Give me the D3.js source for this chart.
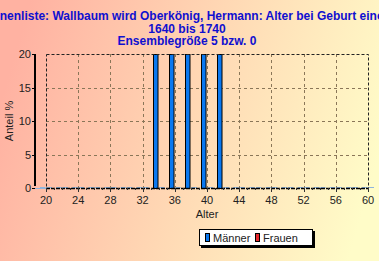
<!DOCTYPE html>
<html>
<head>
<meta charset="utf-8">
<script src="https://cdn.jsdelivr.net/npm/d3@7"></script>
<style>
  body { margin: 0; padding: 0; overflow: hidden; }
  svg { display: block; }
</style>
</head>
<body>
<div id="chart"></div>
<script>
// data
const titleLines = [
  "Ahnenliste: Wallbaum wird Oberkönig, Hermann: Alter bei Geburt eines",
  "1640 bis 1740",
  "Ensemblegröße 5 bzw. 0"
];
const ages    = [20, 22, 24, 26, 28, 30, 32, 34, 36, 38, 40, 42, 44, 46, 48, 50, 52, 54, 56, 58, 60];
const maenner = [0, 0, 0, 0, 0, 0, 0, 20, 20, 20, 20, 20, 0, 0, 0, 0, 0, 0, 0, 0, 0];
const frauen  = [0, 0, 0, 0, 0, 0, 0, 0, 0, 0, 0, 0, 0, 0, 0, 0, 0, 0, 0, 0, 0];
const xTicks = [20, 24, 28, 32, 36, 40, 44, 48, 52, 56, 60];
const yTicks = [0, 5, 10, 15, 20];
const seriesNames = ["Männer", "Frauen"];

const W = 379, H = 261;
const plot = { left: 46, right: 368, top: 54, bottom: 188 };
const colM = "#0a78f0", colF = "#e8282c";

const svg = d3.select("#chart").append("svg")
  .attr("width", W).attr("height", H);

const defs = svg.append("defs");
const grad = defs.append("linearGradient").attr("id", "bg")
  .attr("x1", "0%").attr("y1", "40%").attr("x2", "100%").attr("y2", "60%");
grad.append("stop").attr("offset", "0%").attr("stop-color", "#ffb2a2");
grad.append("stop").attr("offset", "50%").attr("stop-color", "#ffd8b4");
grad.append("stop").attr("offset", "100%").attr("stop-color", "#fffcc8");
svg.append("rect").attr("width", W).attr("height", H).attr("fill", "url(#bg)");

const x = d3.scaleLinear().domain([20, 60]).range([plot.left, plot.right]);
const y = d3.scaleLinear().domain([0, 20]).range([plot.bottom, plot.top]);

// grid
const grid = svg.append("g").attr("stroke", "#8a7658").attr("stroke-dasharray", "3,3").attr("stroke-width", 1);
grid.selectAll("line.v").data(xTicks.slice(1, -1)).enter().append("line")
  .attr("x1", d => Math.round(x(d)) + 0.5).attr("x2", d => Math.round(x(d)) + 0.5)
  .attr("y1", plot.top).attr("y2", plot.bottom);
grid.selectAll("line.h").data(yTicks.slice(1, -1)).enter().append("line")
  .attr("y1", d => Math.round(y(d)) + 0.5).attr("y2", d => Math.round(y(d)) + 0.5)
  .attr("x1", plot.left).attr("x2", plot.right);

// bars (Männer left of bin centre, Frauen right)
const barW = 5.5;
const bars = svg.append("g");
ages.forEach((a, i) => {
  [maenner[i], frauen[i]].forEach((v, s) => {
    const bx = s === 0 ? x(a) - barW - 0.5 : x(a) + 0.5;
    if (v > 0) {
      bars.append("rect")
        .attr("x", Math.round(bx) + 0.5).attr("y", y(v) + 0.5)
        .attr("width", barW - 1).attr("height", y(0) - y(v))
        .attr("fill", s === 0 ? colM : colF)
        .attr("stroke", "#000").attr("stroke-width", 1);
    } else {
      bars.append("rect")
        .attr("x", bx).attr("y", y(0) - 1)
        .attr("width", barW).attr("height", 1)
        .attr("fill", "#8fb4dc");
    }
  });
});

// plot frame (dashed)
svg.append("rect")
  .attr("x", plot.left + 0.5).attr("y", plot.top + 0.5)
  .attr("width", plot.right - plot.left).attr("height", plot.bottom - plot.top)
  .attr("fill", "none").attr("stroke", "#222").attr("stroke-dasharray", "3,2");
svg.append("line")
  .attr("x1", plot.left).attr("x2", plot.right + 1)
  .attr("y1", plot.bottom + 0.5).attr("y2", plot.bottom + 0.5)
  .attr("stroke", "#000").attr("stroke-width", 1.5).attr("stroke-dasharray", "4,1");

// y axis
const yAxisX = 35;
svg.append("line").attr("x1", yAxisX).attr("x2", yAxisX)
  .attr("y1", plot.top).attr("y2", plot.bottom - 2)
  .attr("stroke", "#000").attr("stroke-width", 2);
const yAx = svg.append("g").attr("font-family", "Liberation Sans, Arial, sans-serif")
  .attr("font-size", 11).attr("fill", "#222");
yTicks.forEach(t => {
  yAx.append("line").attr("x1", yAxisX - 3).attr("x2", yAxisX)
    .attr("y1", Math.round(y(t)) + 0.5).attr("y2", Math.round(y(t)) + 0.5)
    .attr("stroke", "#000");
  yAx.append("text").attr("x", 31).attr("y", y(t) + 4)
    .attr("text-anchor", "end").text(t);
});
svg.append("line").attr("x1", yAxisX).attr("x2", plot.left)
  .attr("y1", plot.bottom + 0.5).attr("y2", plot.bottom + 0.5)
  .attr("stroke", "#8fb4dc");

// x axis
const xAx = svg.append("g").attr("font-family", "Liberation Sans, Arial, sans-serif")
  .attr("font-size", 11).attr("fill", "#222");
d3.range(20, 61, 1).forEach(t => {
  const major = xTicks.includes(t);
  xAx.append("line")
    .attr("x1", Math.round(x(t)) + 0.5).attr("x2", Math.round(x(t)) + 0.5)
    .attr("y1", plot.bottom).attr("y2", plot.bottom + (major ? 4 : 2))
    .attr("stroke", "#333");
});
xTicks.forEach(t => {
  xAx.append("text").attr("x", x(t)).attr("y", 204)
    .attr("text-anchor", "middle").text(t);
});
svg.append("text").attr("x", 207).attr("y", 218)
  .attr("text-anchor", "middle").attr("font-family", "Liberation Sans, Arial, sans-serif")
  .attr("font-size", 11).attr("fill", "#222").text("Alter");
svg.append("text").attr("transform", "translate(13,121) rotate(-90)")
  .attr("text-anchor", "middle").attr("font-family", "Liberation Sans, Arial, sans-serif")
  .attr("font-size", 11).attr("fill", "#222").text("Anteil %");

// title (first line is wider than the picture, as in the original)
const title = svg.append("g").attr("font-family", "Liberation Sans, Arial, sans-serif")
  .attr("font-weight", "bold").attr("font-size", 12).attr("fill", "#1010d0")
  .attr("text-anchor", "middle");
titleLines.forEach((l, i) => {
  title.append("text").attr("x", 187).attr("y", 20 + i * 12.5).text(l);
});

// legend
const lg = svg.append("g").attr("transform", "translate(199,229)");
lg.append("rect").attr("x", 2).attr("y", 2).attr("width", 114).attr("height", 17).attr("fill", "#000");
lg.append("rect").attr("x", 0.5).attr("y", 0.5).attr("width", 113).attr("height", 16)
  .attr("fill", "#fff").attr("stroke", "#000");
[colM, colF].forEach((c, i) => {
  const ox = 6 + i * 50;
  lg.append("rect").attr("x", ox + 0.5).attr("y", 4.5).attr("width", 4).attr("height", 8)
    .attr("fill", c).attr("stroke", "#000");
  lg.append("text").attr("x", ox + 8).attr("y", 13)
    .attr("font-family", "Liberation Sans, Arial, sans-serif").attr("font-size", 11)
    .attr("fill", "#222").text(seriesNames[i]);
});
</script>
</body>
</html>
